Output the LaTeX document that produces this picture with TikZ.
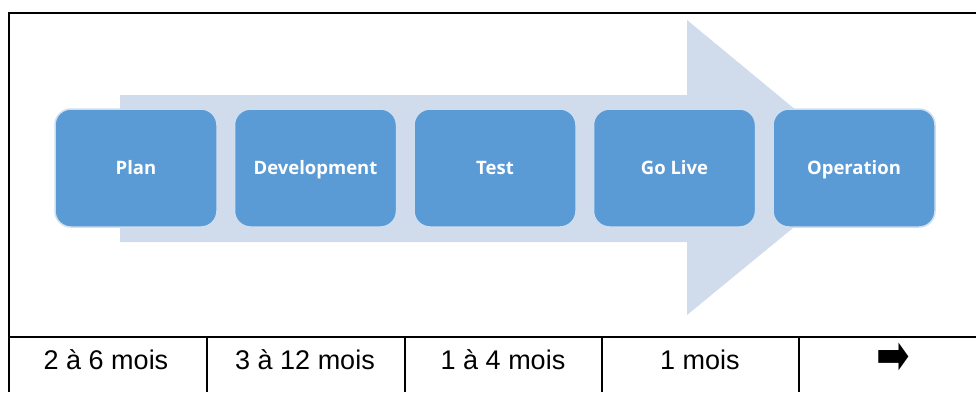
\documentclass[tikz,border=0pt]{standalone}
\usepackage{fontspec}
\setmainfont{Liberation Sans}
\newfontfamily\boxfont{Open Sans}
\newfontfamily\symfont{DejaVu Sans}
\usetikzlibrary{positioning}

\definecolor{phaseblue}{RGB}{91,155,213}
\definecolor{phaseedge}{RGB}{205,222,240}
\definecolor{flowarrow}{RGB}{208,220,236}

\begin{document}
\begin{tikzpicture}[x=1pt, y=-1pt, node distance=179.5pt, on grid,
    phase/.style={rectangle, rounded corners=16pt, fill=phaseblue, draw=phaseedge,
        line width=1.5pt, minimum width=162pt, minimum height=118pt,
        text height=13pt, text depth=0pt,
        text=white, font=\boxfont\bfseries\fontsize{18.5}{20}\selectfont},
    rule/.style={line width=2pt},
    cell/.style={text height=19pt, text depth=0pt, font=\fontsize{27}{30}\selectfont}]

        \useasboundingbox (0,0) rectangle (977,392);

        % big arrow behind the phases
        \fill[flowarrow] (120,95) -- (687,95) -- (687,20) -- (866,168)
            -- (687,315) -- (687,242) -- (120,242) -- cycle;

        \node[phase] (plan) at (136,168) {Plan};
        \node[phase, right=of plan] (dev) {Development};
        \node[phase, right=of dev] (test) {Test};
        \node[phase, right=of test] (golive) {Go Live};
        \node[phase, right=of golive] (operation) {Operation};

        % durations
        \draw[rule] (976,13) -- (9,13) -- (9,392);
        \draw[rule] (9,337) -- (976,337);
        \foreach \x in {207,405,602,799}
            \draw[rule] (\x,337) -- (\x,392);

        \node[cell] (t1) at (106,360) {2 à 6 mois};
        \node[cell] (t2) at (305,360) {3 à 12 mois};
        \node[cell] (t3) at (503,360) {1 à 4 mois};
        \node[cell] (t4) at (700,360) {1 mois};
        \node[font=\symfont\fontsize{40}{40}\selectfont] (t5) at (893,359)
            {\scalebox{1}[1.4]{➡}};

\end{tikzpicture}
\end{document}
